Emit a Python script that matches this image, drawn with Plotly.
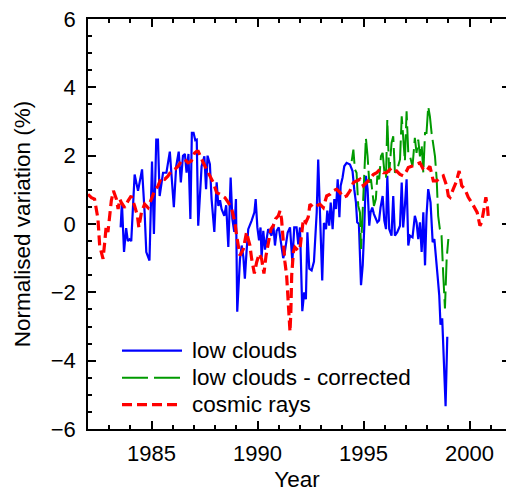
import plotly.graph_objects as go

# ---------------- data ----------------
cloud_year = [1983.54, 1983.6, 1983.7, 1983.8, 1983.88, 1983.96, 1984.04, 1984.2, 1984.36, 1984.55,
              1984.67, 1984.75, 1984.9, 1985.02, 1985.11, 1985.22, 1985.3, 1985.38, 1985.54, 1985.7,
              1985.86, 1986.05, 1986.16, 1986.28, 1986.38, 1986.48, 1986.57, 1986.65, 1986.74, 1986.83,
              1986.9, 1986.98, 1987.06, 1987.13, 1987.2, 1987.36, 1987.49, 1987.57, 1987.64, 1987.75,
              1987.83, 1987.96, 1988.07, 1988.15, 1988.23, 1988.3, 1988.43, 1988.52, 1988.62, 1988.73,
              1988.81, 1988.9, 1988.98, 1989.04, 1989.17, 1989.25, 1989.33, 1989.4, 1989.48, 1989.56,
              1989.72, 1989.85, 1989.91, 1989.99, 1990.07, 1990.14, 1990.19, 1990.27, 1990.35, 1990.43,
              1990.5, 1990.66, 1990.74, 1990.82, 1990.9, 1991.0, 1991.1, 1991.21, 1991.29, 1991.42,
              1991.53, 1991.64, 1991.73, 1991.84, 1991.92, 1992.0, 1992.11, 1992.2, 1992.28, 1992.35,
              1992.44, 1992.55, 1992.66, 1992.79, 1992.86, 1992.94, 1993.05, 1993.13, 1993.23, 1993.29,
              1993.38, 1993.45, 1993.54, 1993.62, 1993.7, 1993.78, 1993.86, 1993.92, 1994.01, 1994.09,
              1994.2, 1994.36, 1994.48, 1994.56, 1994.64, 1994.7, 1994.78, 1994.88, 1994.96, 1995.03,
              1995.11, 1995.19, 1995.27, 1995.33, 1995.41, 1995.49, 1995.57, 1995.65, 1995.73, 1995.8,
              1995.9, 1995.98, 1996.06, 1996.12, 1996.21, 1996.32, 1996.4, 1996.48, 1996.59, 1996.72,
              1996.8, 1996.87, 1996.95, 1997.03, 1997.11, 1997.19, 1997.31, 1997.42, 1997.5, 1997.58,
              1997.66, 1997.74, 1997.82, 1997.9, 1997.97, 1998.05, 1998.16, 1998.26, 1998.34, 1998.42,
              1998.49, 1998.57, 1998.63, 1998.71, 1998.79, 1998.87, 1998.95]
cloud_val = [-0.1, 0.63, -0.82, -0.12, -0.5, -0.45, -0.5, 1.45, 0.97, 1.6,
             0.35, -0.82, -1.07, 1.83, -0.29, 2.47, 2.47, 0.82, 1.5, 1.5,
             2.12, 0.49, 1.69, 2.12, 1.22, 2.0, 2.05, 1.5, 2.05, 0.15,
             2.67, 2.67, 2.45, 2.47, -0.05, 1.69, 1.98, 1.02, 2.0, 1.75,
             0.73, -0.23, 1.22, 0.53, 0.7, 0.44, 0.24, 0.55, -0.67, 1.36,
             0.15, -0.23, 0.73, -2.57, -1.02, -0.63, -0.97, -1.6, -0.8, -0.15,
             0.1, 0.34, 0.73, -0.1, -0.48, -0.1, -0.98, -0.2, -0.75, -0.4,
             -0.15, -0.34, 0.0, -0.63, -0.2, -0.1, -0.5, -1.0, -0.8, -0.25,
             -0.1, -1.1, -0.1, -0.1, -0.6, -0.1, -2.55, -2.0, -2.2, -0.24,
             -1.31, -1.36, -1.1, 0.34, 1.89, 0.34, -1.65, 0.03, -0.15, 0.39,
             -0.05, 0.63, -0.15, 0.73, 0.44, 1.31, 0.2, 1.12, 1.36, 1.69,
             1.79, 1.74, 1.55, 1.02, 0.63, 0.05, 0.0, -1.79, -1.21, -0.15,
             1.41, 1.02, -0.05, 0.34, 0.48, 0.29, 0.15, 0.05, 0.1, 0.48,
             0.82, 0.1, -0.15, 1.41, -0.15, -0.34, 0.82, -0.34, -0.24, -0.05,
             1.21, -0.1, 0.53, 1.31, -0.63, -0.34, -0.39, 0.24, 0.05, -0.44,
             0.05, -0.82, 0.34, -1.21, 0.24, 1.02, 0.63, -0.53, -0.44, -0.92,
             -1.5, -2.08, -2.95, -2.76, -4.4, -5.33, -3.3]

corr_year = [1994.44, 1994.52, 1994.59, 1994.67, 1994.75, 1994.83, 1994.88, 1994.96, 1995.03, 1995.11,
             1995.19, 1995.27, 1995.35, 1995.43, 1995.49, 1995.58, 1995.65, 1995.74, 1995.82, 1995.9,
             1995.98, 1996.06, 1996.12, 1996.21, 1996.32, 1996.4, 1996.48, 1996.59, 1996.72, 1996.8,
             1996.87, 1996.95, 1997.03, 1997.11, 1997.19, 1997.31, 1997.42, 1997.5, 1997.58, 1997.66,
             1997.74, 1997.82, 1997.9, 1997.97, 1998.05, 1998.13, 1998.21, 1998.29, 1998.37, 1998.45,
             1998.52, 1998.6, 1998.68, 1998.76, 1998.84, 1998.92, 1999.0]
corr_val = [1.84, 2.18, 1.6, 1.5, 0.53, 0.34, -0.73, 0.34, 1.5, 2.52,
            1.98, 1.21, 1.31, 0.73, 0.53, 0.73, 1.41, 1.31, 1.98, 2.08,
            1.55, 1.36, 3.05, 1.5, 2.37, 2.57, 1.5, 1.6, 1.89, 3.15,
            2.57, 1.84, 3.3, 2.08, 1.98, 1.69, 2.52, 2.08, 2.47, 1.98,
            2.32, 1.5, 2.66, 2.66, 3.44, 3.15, 2.66, 2.37, 1.98, 1.31,
            0.24, -0.15, -0.34, -1.5, -2.47, -1.02, -0.44]

cr_year = [1982.0, 1982.16, 1982.31, 1982.47, 1982.55, 1982.63, 1982.71, 1982.79, 1982.86, 1982.94,
           1983.02, 1983.1, 1983.2, 1983.34, 1983.42, 1983.5, 1983.57, 1983.73, 1983.89, 1984.04,
           1984.2, 1984.33, 1984.4, 1984.52, 1984.67, 1984.83, 1984.99, 1985.14, 1985.3, 1985.46,
           1985.62, 1985.77, 1985.93, 1986.09, 1986.25, 1986.4, 1986.56, 1986.72, 1986.87, 1987.03,
           1987.13, 1987.2, 1987.44, 1987.6, 1987.75, 1987.91, 1988.07, 1988.23, 1988.46, 1988.62,
           1988.78, 1988.93, 1989.01, 1989.17, 1989.33, 1989.48, 1989.56, 1989.64, 1989.72, 1989.85,
           1989.96, 1990.08, 1990.19, 1990.3, 1990.4, 1990.5, 1990.63, 1990.74, 1990.85, 1990.98,
           1991.06, 1991.13, 1991.21, 1991.29, 1991.37, 1991.42, 1991.48, 1991.53, 1991.57, 1991.61,
           1991.69, 1991.76, 1991.92, 1992.0, 1992.16, 1992.28, 1992.39, 1992.47, 1992.63, 1992.79,
           1992.94, 1993.1, 1993.26, 1993.42, 1993.57, 1993.73, 1993.89, 1994.04, 1994.2, 1994.36,
           1994.52, 1994.67, 1994.83, 1994.99, 1995.14, 1995.3, 1995.46, 1995.62, 1995.77, 1995.93,
           1996.09, 1996.25, 1996.4, 1996.56, 1996.72, 1996.87, 1997.03, 1997.11, 1997.27, 1997.5,
           1997.66, 1997.82, 1997.97, 1998.13, 1998.29, 1998.45, 1998.6, 1998.76, 1998.92, 1999.0,
           1999.08, 1999.23, 1999.36, 1999.51, 1999.63, 1999.78, 1999.94, 2000.1, 2000.25, 2000.36,
           2000.49, 2000.57, 2000.68, 2000.77, 2000.84, 2000.88]
cr_val = [0.87, 0.77, 0.73, 0.15, -0.63, -0.82, -1.02, -0.53, -0.05, -0.24,
          0.24, 0.68, 0.97, 0.73, 0.44, 0.73, 0.63, 0.48, 0.68, 0.82,
          0.53, 0.24, -0.1, 0.34, 0.58, 0.48, 0.73, 0.97, 1.11, 1.36,
          1.31, 1.4, 1.55, 1.6, 1.69, 1.84, 1.89, 1.79, 1.84, 2.08,
          2.13, 2.13, 1.79, 1.6, 1.4, 1.21, 0.92, 0.87, 0.77, 0.63,
          0.44, 0.05, -0.34, -0.92, -0.73, -0.24, -0.44, -0.63, -1.02, -1.45,
          -1.11, -0.87, -1.02, -1.45, -0.92, -0.53, -0.15, -0.05, 0.15, 0.24,
          0.39, 0.15, -0.63, -1.11, -1.5, -1.99, -2.57, -3.15, -2.57, -1.5,
          -0.82, -0.68, -0.78, -0.73, 0.15, 0.05, 0.2, 0.58, 0.48, 0.53,
          0.58, 0.48, 0.82, 0.87, 0.97, 1.02, 0.92, 0.78, 0.82, 0.97,
          1.21, 1.26, 1.31, 1.12, 1.21, 1.31, 1.45, 1.5, 1.6, 1.5,
          1.5, 1.6, 1.5, 1.55, 1.45, 1.41, 1.55, 1.65, 1.69, 1.74,
          1.79, 1.6, 1.55, 1.69, 1.26, 1.26, 1.36, 1.41, 1.12, 0.82,
          0.78, 1.02, 1.21, 1.55, 1.12, 1.02, 0.78, 0.63, 0.48, 0.34,
          -0.05, 0.05, 0.44, 0.78, 0.53, 0.24]

x_tick_vals = [1985, 1990, 1995, 2000]
y_tick_vals = [-6, -4, -2, 0, 2, 4, 6]
series_names = ["low clouds", "low clouds - corrected", "cosmic rays"]
series_colors = ["#0000ff", "#009a00", "#ff0000"]
series_dash = ["solid", "26px,6px", "10px,5px"]
series_width = [2.2, 2.0, 3.2]

FONT = "Liberation Sans, Arial, Helvetica, sans-serif"
X_RANGE = [1982, 2001.72]
Y_RANGE = [-6, 6]

fig = go.Figure()
for xs, ys, name, c, d, w in zip([cloud_year, corr_year, cr_year], [cloud_val, corr_val, cr_val],
                                 series_names, series_colors, series_dash, series_width):
    fig.add_trace(go.Scatter(x=xs, y=ys, mode="lines", name=name,
                             line=dict(color=c, width=w, dash=d), showlegend=False))

# dummy trace to activate right-side tick axis
fig.add_trace(go.Scatter(x=[None], y=[None], yaxis="y2", showlegend=False, hoverinfo="skip"))

# manual legend (line samples + labels), placed in paper coordinates
L, R_, T, B = 88, 506, 19, 432
W, H = R_ - L, B - T
leg_rows_px = [353, 380.5, 407.5]
for name, c, d, w, ypx in zip(series_names, series_colors, series_dash, series_width, leg_rows_px):
    yp = (B - ypx) / H
    fig.add_shape(type="line", xref="paper", yref="paper",
                  x0=(122 - L) / W, x1=(182 - L) / W, y0=yp, y1=yp,
                  line=dict(color=c, width=w, dash=d))
    fig.add_annotation(xref="paper", yref="paper", x=(190 - L) / W, y=yp,
                       text=name, showarrow=False, xanchor="left", yanchor="middle",
                       font=dict(family=FONT, size=22.5, color="black"))

axis_common = dict(showgrid=False, zeroline=False, showline=True, linecolor="black",
                   linewidth=1.5, ticks="inside", tickcolor="black", tickwidth=1.5,
                   tickfont=dict(family=FONT, size=22, color="black"))

fig.update_layout(
    width=506, height=492,
    margin=dict(l=L, r=0, t=T, b=492 - B, pad=0),
    paper_bgcolor="white", plot_bgcolor="white",
    font=dict(family=FONT, size=22, color="black"),
    xaxis=dict(range=X_RANGE, tickvals=x_tick_vals, ticklen=8, mirror="ticks",
               minor=dict(dtick=1, tick0=1982, ticklen=4, ticks="inside", tickcolor="black", tickwidth=1.5),
               ticklabelstandoff=4,
               title=dict(text="Year", font=dict(family=FONT, size=22.5), standoff=10),
               **axis_common),
    yaxis=dict(range=Y_RANGE, tickvals=y_tick_vals, ticklen=8, mirror=False,
               minor=dict(dtick=0.5, tick0=0, ticklen=4, ticks="inside", tickcolor="black", tickwidth=1.5),
               ticklabelstandoff=6,
               title=dict(text="Normalised variation (%)", font=dict(family=FONT, size=22.5), standoff=14),
               **axis_common),
    yaxis2=dict(range=Y_RANGE, overlaying="y", side="right", anchor="x", tickvals=y_tick_vals,
                showticklabels=False, showline=False, showgrid=False, zeroline=False,
                ticks="inside", ticklen=4, tickcolor="black", tickwidth=1.5),
)

fig.write_html("out.html")
